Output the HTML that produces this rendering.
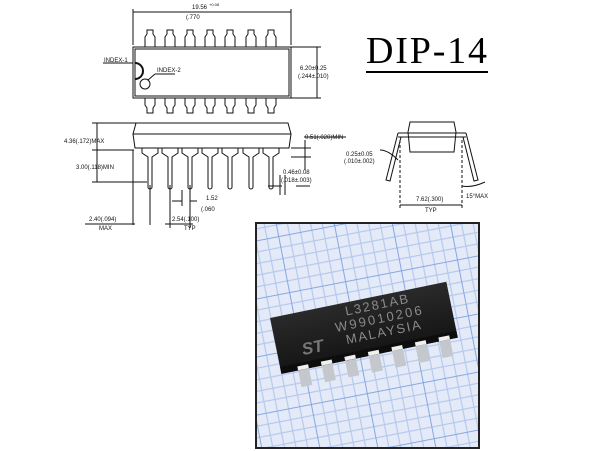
<!DOCTYPE html>
<html><head><meta charset="utf-8"><style>
html,body{margin:0;padding:0;background:#fff;width:600px;height:451px;overflow:hidden}
svg{display:block}
text{font-family:"Liberation Sans",sans-serif;fill:#111}
</style></head><body>
<svg width="600" height="451" viewBox="0 0 600 451" xmlns="http://www.w3.org/2000/svg">
<defs>
<pattern id="grid" width="57" height="57" patternUnits="userSpaceOnUse" patternTransform="rotate(-11)">
<rect width="57" height="57" fill="#e4eaf7"/>
<path d="M11.4 0V57M22.8 0V57M34.2 0V57M45.6 0V57M0 11.4H57M0 22.8H57M0 34.2H57M0 45.6H57" stroke="#b3c7ec" stroke-width="1.1"/>
<path d="M0 0V57M0 0H57" stroke="#7aa0de" stroke-width="1.8"/>
</pattern>
<linearGradient id="body" x1="0" y1="0" x2="0" y2="1">
<stop offset="0" stop-color="#2a2a2a"/><stop offset="1" stop-color="#141414"/>
</linearGradient>
</defs>

<text x="366" y="63" style="font-family:'Liberation Serif',serif;font-size:38px;fill:#000" textLength="121">DIP-14</text>
<rect x="366" y="71" width="122" height="2" fill="#000"/>

<g stroke="#111" stroke-width="1" fill="none">
<rect x="133" y="47" width="158" height="51"/>
<rect x="135" y="49" width="154" height="47"/>
<g id="tp"><path d="M145 47V37l2-3v-4h6v4l2 3v10"/></g>
<use href="#tp" x="20"/><use href="#tp" x="40"/><use href="#tp" x="60"/><use href="#tp" x="80"/><use href="#tp" x="101"/><use href="#tp" x="121"/>
<g id="bp"><path d="M145 98v7l2 3v5h6v-5l2-3v-7"/></g>
<use href="#bp" x="20"/><use href="#bp" x="40"/><use href="#bp" x="60"/><use href="#bp" x="80"/><use href="#bp" x="101"/><use href="#bp" x="121"/>
<path d="M135 63a8 8 0 0 1 0 16" stroke-width="2"/>
<circle cx="145" cy="84" r="5"/>
<path d="M103 63h30M155 74l-7 6M155 74h20"/>
<path d="M133 12h158M133 45V9M291 45V9"/>
<path d="M291 47h30M291 98h30M317 47v51"/>

<path d="M136 123h152l3 11h-158z"/>
<path d="M133 134l2 14h154l2-14"/>
<g id="sl"><path d="M142 148v5l6 4v30a2 2 0 0 0 4 0v-30l6-4v-5"/></g>
<use href="#sl" x="20"/><use href="#sl" x="40"/><use href="#sl" x="60"/><use href="#sl" x="80"/><use href="#sl" x="101"/><use href="#sl" x="121"/>
<path d="M92 123h44M92 150h42M92 182h55M97 123v59"/>
<path d="M133 150v75M150 185v40M170 185v43M190 185v43M165 224h28M85 224h50M182 190v16M190 190v16M172 201h10M197 201h-7"/>
<path d="M291 148h20M291 157h20M305 140v30M304 137h42M268 186h14M296 186h14M280 175v20M285 175v20"/>

<path d="M410 122h44l2 10-2 20h-44l-2-20z"/>
<path d="M398 133h68M398 137h68"/>
<path d="M398 133l-12 47l4 1l11-44M466 133l12 47l-4 1l-11-44"/>
<path d="M400 140v68M462 140v68" stroke-dasharray="3 2"/>
<path d="M400 205h62"/>
<path d="M462 186q10 2 23-4M380 150q8 0 18 10"/>
</g>

<g style="font-size:6px">
<text x="192" y="9">19.56</text><text x="209" y="6" style="font-size:4px">+0.08</text>
<text x="186" y="19">(.770</text>
<text x="104" y="62">INDEX-1</text>
<text x="157" y="72">INDEX-2</text>
<text x="300" y="70">6.20±0.25</text>
<text x="298" y="78">(.244±.010)</text>
<text x="64" y="143">4.36(.172)MAX</text>
<text x="76" y="169">3.00(.118)MIN</text>
<text x="305" y="139">0.51(.020)MIN</text>
<text x="283" y="174">0.46±0.08</text>
<text x="281" y="182">(.018±.003)</text>
<text x="206" y="200">1.52</text>
<text x="201" y="211">(.060</text>
<text x="89" y="221">2.40(.094)</text><text x="99" y="230">MAX</text>
<text x="172" y="221">2.54(.100)</text><text x="184" y="230">TYP</text>
<text x="346" y="156">0.25±0.05</text>
<text x="344" y="163">(.010±.002)</text>
<text x="416" y="201">7.62(.300)</text>
<text x="425" y="212">TYP</text>
<text x="466" y="198">15°MAX</text>
</g>

<rect x="255" y="222" width="225" height="227" fill="#222"/>
<rect x="257" y="224" width="221" height="223" fill="url(#grid)"/>
<g transform="translate(270,318) rotate(-11.6)">
<g fill="#c4c8cd">
<rect x="17" y="50" width="11" height="24"/><rect x="41" y="50" width="11" height="24"/><rect x="65" y="50" width="11" height="24"/><rect x="89" y="50" width="11" height="24"/><rect x="113" y="50" width="11" height="24"/><rect x="137" y="50" width="11" height="24"/><rect x="161" y="50" width="11" height="24"/>
</g>
<rect x="0" y="0" width="180" height="57" fill="url(#body)"/>
<rect x="0" y="50" width="180" height="7" fill="#0d0d0d"/>
<g fill="#f0f0f0"><rect x="17" y="53" width="11" height="4"/><rect x="41" y="53" width="11" height="4"/><rect x="65" y="53" width="11" height="4"/><rect x="89" y="53" width="11" height="4"/><rect x="113" y="53" width="11" height="4"/><rect x="137" y="53" width="11" height="4"/><rect x="161" y="53" width="11" height="4"/></g>
<text x="25" y="43" style="font-size:17px;font-weight:bold;fill:#777;font-style:italic">ST</text>
<text x="75" y="13" style="font-size:13px;fill:#8a8a8a" textLength="64">L3281AB</text>
<text x="62" y="27" style="font-size:13px;fill:#8a8a8a" textLength="88">W99010206</text>
<text x="70" y="41" style="font-size:13px;fill:#8a8a8a" textLength="76">MALAYSIA</text>
</g>
</svg>
</body></html>
